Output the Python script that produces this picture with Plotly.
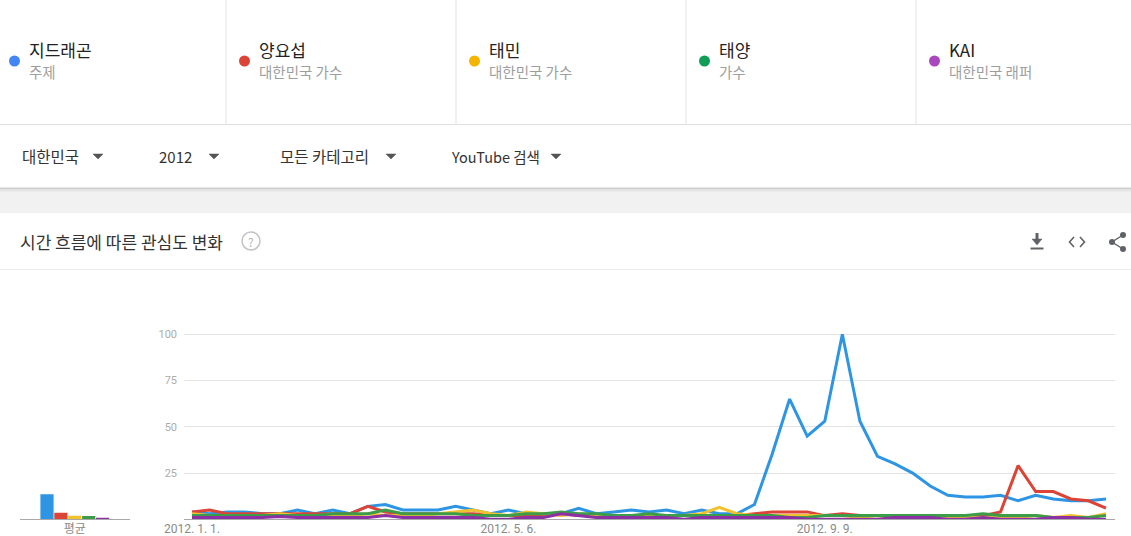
import plotly.graph_objects as go
import pandas as pd

W, H = 1131, 536

# ---------------- data ----------------
series_names = ["지드래곤", "양요섭", "태민", "태양", "KAI"]
series_subs = ["주제", "대한민국 가수", "대한민국 가수", "가수", "대한민국 래퍼"]
week_start = "2012-01-01"
n_weeks = 53

gdragon = [4, 3, 4, 4, 3, 3, 5, 3, 5, 3, 7, 8, 5, 5, 5, 7, 5, 3, 5, 3,
           3, 3, 6, 3, 4, 5, 4, 5, 3, 5, 3, 3, 8, 35, 65, 45, 53, 100, 53, 34,
           30, 25, 18, 13, 12, 12, 13, 10, 13, 11, 10, 10, 11]
yoseob = [4, 5, 3, 3, 3, 3, 3, 3, 3, 3, 7, 4, 3, 3, 3, 3, 3, 2, 2, 2,
          2, 3, 2, 2, 2, 2, 2, 2, 2, 2, 1, 2, 3, 4, 4, 4, 2, 3, 2, 2,
          2, 2, 2, 2, 2, 2, 4, 29, 15, 15, 11, 10, 6]
taemin = [3, 2, 2, 2, 2, 3, 2, 2, 2, 2, 3, 2, 2, 2, 3, 4, 5, 3, 2, 4,
          3, 2, 3, 2, 2, 2, 2, 2, 2, 3, 6.5, 3, 2, 2, 2, 2, 2, 2, 1, 2,
          1, 1, 1, 1, 1, 1, 1, 1, 2, 1, 2, 1, 3]
taeyang = [2, 2, 2, 2, 2, 2, 2, 2, 3, 3, 3, 5, 3, 3, 3, 3, 2, 2, 2, 3,
           3, 4, 3, 3, 2, 2, 3, 2, 2, 2, 2, 2, 2, 2, 1, 1, 2, 2, 2, 2,
           2, 2, 2, 2, 2, 3, 2, 2, 2, 1, 1, 1, 2]
kai = [1, 1, 1, 1, 1, 1.5, 1, 1, 1, 1, 1, 2, 1, 1, 1, 1, 1, 0, 0, 1,
       1, 3, 2, 1, 1, 1, 1, 1, 0, 1, 1, 1, 1, 1, 1, 0, 0, 0, 0, 0,
       1, 1, 1, 0, 0, 1, 0, 0, 0, 1, 1, 0, 0]
averages = [13.5, 3.5, 1.9, 1.8, 0.8]

x_tickvals = ["2012-01-01", "2012-05-06", "2012-09-09"]
x_ticktext = ["2012. 1. 1.", "2012. 5. 6.", "2012. 9. 9."]
y_tickvals = [25, 50, 75, 100]
avg_label = "평균"

filters = ["대한민국", "2012", "모든 카테고리", "YouTube 검색"]
chart_title = "시간 흐름에 따른 관심도 변화"

line_colors = ["#2d95e3", "#dc4437", "#f2c12e", "#3c9c48", "#8d2fa5"]
dot_colors = ["#4285f4", "#db4437", "#f4b400", "#0f9d58", "#ab47bc"]

weeks = pd.date_range(week_start, periods=n_weeks, freq="7D")
all_series = [gdragon, yoseob, taemin, taeyang, kai]

FONT = "Noto Sans CJK KR, Roboto, sans-serif"


def px(x):
    return x / W


def py(y):
    return 1 - y / H


fig = go.Figure()

for name, vals, col in zip(series_names, all_series, line_colors):
    fig.add_trace(go.Scatter(
        x=weeks, y=vals, mode="lines", name=name,
        line=dict(color=col, width=3), xaxis="x", yaxis="y",
        hoverinfo="skip", showlegend=False))

fig.add_trace(go.Bar(
    x=list(range(len(averages))), y=averages, marker=dict(color=line_colors, line=dict(width=0)),
    width=0.95, xaxis="x2", yaxis="y2", hoverinfo="skip", showlegend=False))

# axis geometry (pixel based)
plot_left, plot_right = 184, 1115
first_px, last_px = 192, 1106
px_per_day = (last_px - first_px) / ((weeks[-1] - weeks[0]).days)
x_start = weeks[0] - pd.Timedelta(days=(first_px - plot_left) / px_per_day)
x_end = weeks[-1] + pd.Timedelta(days=(plot_right - last_px) / px_per_day)

y_zero_px = 519.3
px_per_unit = 1.85
y_top_val = 110
y_dom = [py(y_zero_px), py(y_zero_px - y_top_val * px_per_unit)]

bar_l, bar_r, bar_c0, bar_pitch = 20, 130, 47, 13.9
x2_range = [-(bar_c0 - bar_l) / bar_pitch, (bar_r - bar_c0) / bar_pitch]

fig.update_layout(
    width=W, height=H, margin=dict(l=0, r=0, t=0, b=0, pad=0, autoexpand=False),
    paper_bgcolor="white", plot_bgcolor="rgba(0,0,0,0)",
    font=dict(family=FONT),
    xaxis=dict(domain=[px(plot_left), px(plot_right)], type="date",
               range=[str(x_start), str(x_end)],
               tickvals=x_tickvals, ticktext=x_ticktext, ticks="",
               tickfont=dict(size=12, color="#8a8a8a", family="Roboto"),
               ticklabelstandoff=-2,
               showgrid=False, showline=True, linecolor="#a8a8a8", linewidth=1,
               zeroline=False, fixedrange=True, automargin=False),
    yaxis=dict(domain=y_dom, range=[0, y_top_val], tickvals=y_tickvals,
               ticks="", tickfont=dict(size=11, color="#ababab", family="Roboto"),
               ticklabelstandoff=6,
               showgrid=True, gridcolor="#e3e3e3", gridwidth=1,
               zeroline=False, showline=False, anchor="x", fixedrange=True,
               automargin=False),
    xaxis2=dict(domain=[px(bar_l), px(bar_r)], range=x2_range,
                tickvals=[2], ticktext=[avg_label], ticks="",
                tickfont=dict(size=12, color="#8a8a8a", family=FONT),
                ticklabelstandoff=-2,
                showgrid=False, showline=True, linecolor="#a8a8a8", linewidth=1,
                zeroline=False, anchor="y2", fixedrange=True, automargin=False),
    yaxis2=dict(domain=y_dom, range=[0, y_top_val], showticklabels=False,
                showgrid=False, zeroline=False, showline=False, anchor="x2",
                fixedrange=True, automargin=False),
)

shapes = []
annotations = []


def hline(x0, x1, y, color, width=1):
    shapes.append(dict(type="line", xref="paper", yref="paper",
                       x0=px(x0), x1=px(x1), y0=py(y), y1=py(y),
                       line=dict(color=color, width=width)))


def vline(x, y0, y1, color, width=1):
    shapes.append(dict(type="line", xref="paper", yref="paper",
                       x0=px(x), x1=px(x), y0=py(y0), y1=py(y1),
                       line=dict(color=color, width=width)))


def rect(x0, y0, x1, y1, fill):
    shapes.append(dict(type="rect", xref="paper", yref="paper",
                       x0=px(x0), x1=px(x1), y0=py(y1), y1=py(y0),
                       fillcolor=fill, line=dict(width=0), layer="below"))


def path(points, closed=False, fill=None, color="#5f6368", width=1.5):
    d = "M " + " L ".join(f"{px(x):.5f},{py(y):.5f}" for x, y in points)
    if closed:
        d += " Z"
    shapes.append(dict(type="path", xref="paper", yref="paper", path=d,
                       fillcolor=fill if fill else "rgba(0,0,0,0)",
                       line=dict(color=color, width=width)))


def circle(cx, cy, r, fill=None, color=None, width=0):
    shapes.append(dict(type="circle", xref="paper", yref="paper",
                       x0=px(cx - r), x1=px(cx + r), y0=py(cy + r), y1=py(cy - r),
                       fillcolor=fill if fill else "rgba(0,0,0,0)",
                       line=dict(color=color if color else "rgba(0,0,0,0)", width=width)))


def text(x, y, s, size, color, anchor="left", family=FONT):
    xx = x - 2 if anchor == "left" else x
    annotations.append(dict(xref="paper", yref="paper", x=px(xx), y=py(y),
                            text=s, showarrow=False, xanchor=anchor, yanchor="middle",
                            font=dict(size=size, color=color, family=family)))


# header legend cells
hline(0, W, 124.5, "#e0e0e0")
for sx in [226, 456, 686, 916]:
    vline(sx, 0, 124, "#e3e3e3")
cell_x = [0, 230, 460, 690, 920]
for i, (nm, sub) in enumerate(zip(series_names, series_subs)):
    cx = cell_x[i]
    circle(cx + 14.5, 61, 5.5, fill=dot_colors[i])
    text(cx + 29, 50, nm, 17, "#222222")
    text(cx + 29, 72, sub, 14.5, "#9e9e9e")

# filter row
filter_x = [22, 159, 280, 451]
filter_size = [15.5, 15, 15.5, 14.5]
arrow_x = [98, 214, 391, 556]
for fx, ax, s, fs in zip(filter_x, arrow_x, filters, filter_size):
    text(fx, 156, s, fs, "#333333")
    path([(ax - 5, 154), (ax + 5, 154), (ax, 159)], closed=True, fill="#555555", color="#555555", width=0.5)

# shadow + gray band
rect(0, 189, W, 213, "#f1f1f1")
rect(0, 187.5, W, 189.5, "#cfcfcf")
rect(0, 189.5, W, 191.5, "#e4e4e4")

# card title
text(20, 241, chart_title, 17, "#333333")
circle(251, 241, 9, color="#c4c4c4", width=1.5)
text(251, 241, "?", 12, "#b5b5b5", anchor="center")
hline(0, W, 269.5, "#ececec")

# download icon
rect(1035.5, 233, 1038.5, 239, "#5f6368")
path([(1032, 239), (1042, 239), (1037, 245)], closed=True, fill="#5f6368", color="#5f6368", width=0.5)
rect(1030.5, 247.5, 1043.5, 249.5, "#5f6368")
# embed icon
path([(1074, 237), (1069.5, 242), (1074, 247)], color="#5f6368", width=1.6)
path([(1080, 237), (1084.5, 242), (1080, 247)], color="#5f6368", width=1.6)
# share icon
path([(1123, 235), (1112, 242), (1123, 249)], color="#5f6368", width=1.4)
circle(1123, 235, 3, fill="#5f6368")
circle(1112, 242, 3, fill="#5f6368")
circle(1123, 249, 3, fill="#5f6368")

fig.update_layout(shapes=shapes, annotations=annotations)

fig.write_html(
    "out.html",
    config={"displayModeBar": False, "responsive": False},
    post_script="document.body.style.margin='0';document.body.style.overflow='hidden';",
)
